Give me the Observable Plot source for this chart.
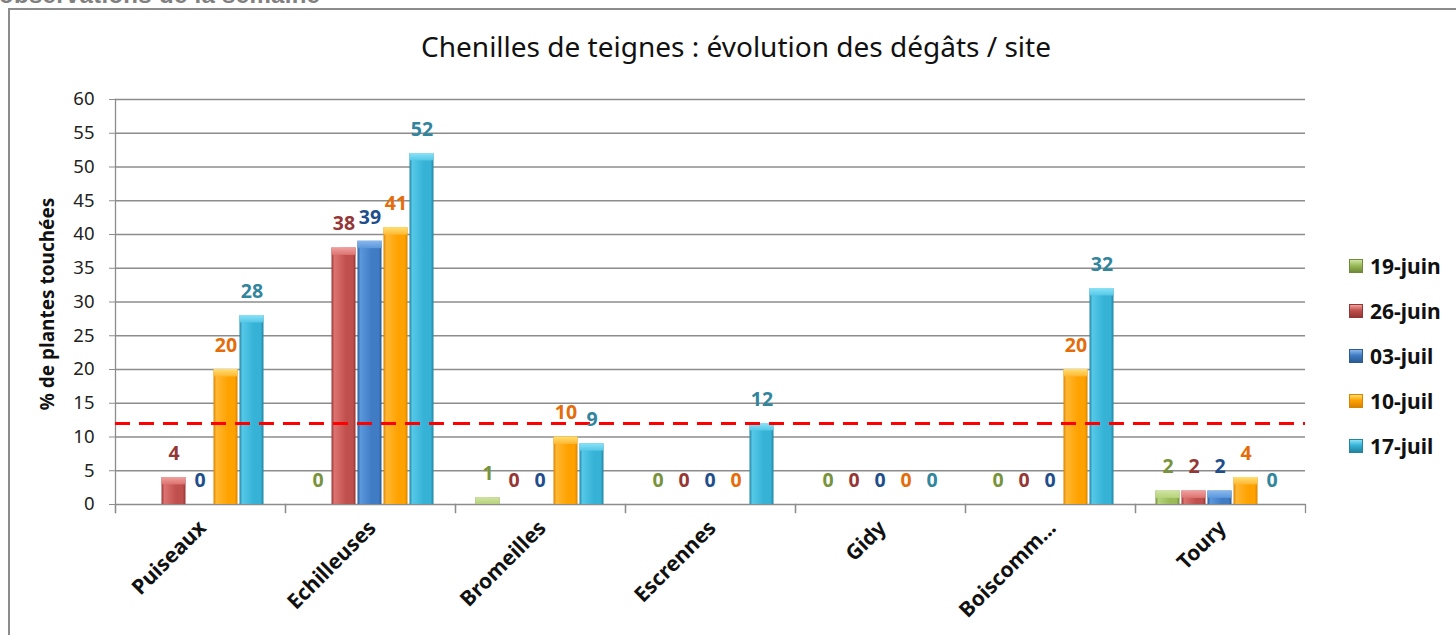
<!DOCTYPE html>
<html><head><meta charset="utf-8">
<script src="https://cdn.jsdelivr.net/npm/d3@7"></script>
<script src="https://cdn.jsdelivr.net/npm/@observablehq/plot@0.6"></script>
<style>
body{margin:0;background:#fff;overflow:hidden;}
#wrap{position:relative;width:1456px;height:635px;overflow:hidden;font-family:"Noto Sans",sans-serif;background:#fff;}
#chart{position:absolute;left:0;top:0;}
#border{position:absolute;left:8px;top:8px;width:1500px;height:700px;border-left:2px solid #8c8c8c;border-top:2px solid #8c8c8c;pointer-events:none;}
#head{position:absolute;left:-1px;top:-19px;font:bold 24px "Liberation Sans",sans-serif;color:#808080;white-space:nowrap;letter-spacing:0.3px;}
#title{position:absolute;left:0;width:1472px;text-align:center;top:27px;font-size:28px;color:#111;white-space:nowrap;}
#ylab{position:absolute;left:47px;top:304px;transform:translate(-50%,-50%) rotate(-90deg);font-size:19px;font-weight:bold;color:#111;white-space:nowrap;}
.leg{position:absolute;left:1349px;height:24px;display:flex;align-items:center;font-size:21px;font-weight:bold;color:#111;white-space:nowrap;}
.sw{width:14px;height:14px;margin-right:7px;box-sizing:border-box;}
</style></head>
<body>
<div id="wrap">
  <div id="chart"></div>
  <div id="head">observations de la semaine</div>
  <div id="border"></div>
  <div id="title">Chenilles de teignes : évolution des dégâts / site</div>
  <div id="ylab">% de plantes touchées</div>
  <div id="legend"></div>
</div>
<script>
// ---- data ----
const sites = ["Puiseaux", "Echilleuses", "Bromeilles", "Escrennes", "Gidy", "Boiscomm...", "Toury"];
const dates = ["19-juin", "26-juin", "03-juil", "10-juil", "17-juil"];
const s19juin = [null, 0, 1, 0, 0, 0, 2];
const s26juin = [4, 38, 0, 0, 0, 0, 2];
const s03juil = [0, 39, 0, 0, 0, 0, 2];
const s10juil = [20, 41, 10, 0, 0, 20, 4];
const s17juil = [28, 52, 9, 12, 0, 32, 0];
const threshold = 12;
const yTicks = [0, 5, 10, 15, 20, 25, 30, 35, 40, 45, 50, 55, 60];

// ---- styles ----
const barBase  = ["#9bbb59", "#c0504d", "#3f7cc4", "#ffa200", "#35b2d6"];
const barLight = ["#b5d37a", "#dc7370", "#5a97dc", "#ffb733", "#55c8e8"];
const barDark  = ["#6f8a38", "#943634", "#2b5a94", "#d98400", "#23849f"];
const barTop   = ["#cfe4a2", "#f0a09e", "#8ab8ec", "#ffe070", "#8ae2f6"];
const labelColors = ["#77933c", "#953735", "#1f4e8c", "#e46c0a", "#31859c"];

const seriesValues = [s19juin, s26juin, s03juil, s10juil, s17juil];
const rows = [];
dates.forEach((date, i) => {
  seriesValues[i].forEach((v, j) => {
    if (v !== null) rows.push({site: sites[j], date, series: i, value: v});
  });
});

const W = 1456, H = 635, mT = 99, mB = 131, mL = 114, mR = 151;
const plotH = H - mT - mB;

const marks = [
  Plot.ruleY(yTicks, {stroke: "#8c8c8c", strokeWidth: 1.3}),
  Plot.frame({anchor: "left", facetAnchor: "left", stroke: "#8c8c8c", strokeWidth: 1.3, insetBottom: -8}),
  Plot.frame({anchor: "left", stroke: "#8c8c8c", strokeWidth: 1.3, insetTop: plotH, insetBottom: -8}),
  Plot.frame({anchor: "right", stroke: "#8c8c8c", strokeWidth: 1.3, insetTop: plotH, insetBottom: -8}),
  Plot.axisY({ticks: yTicks, tickSize: 6, tickPadding: 15, fontSize: 18.5, fill: "#222", stroke: "#8c8c8c", label: null}),
  Plot.axisFx({anchor: "bottom", tickRotate: -45, tickSize: 0, tickPadding: 20, dx: 2, fontSize: 21, fontWeight: "bold", fill: "#111", label: null})
];
dates.forEach((date, i) => {
  const data = rows.filter(d => d.series === i && d.value > 0);
  marks.push(Plot.barY(data, {fx: "site", x: "date", y: "value", fill: `url(#bar${i})`, insetLeft: 0.5, insetRight: 0.5}));
  marks.push(Plot.rectY(data, {fx: "site", x: "date", y1: "value", y2: d => Math.max(0, d.value - 1.1), fill: `url(#top${i})`, insetLeft: 0.5, insetRight: 0.5}));
});
marks.push(Plot.ruleY([threshold], {stroke: "#ff0000", strokeWidth: 3, strokeDasharray: "15,9"}));
dates.forEach((date, i) => {
  const data = rows.filter(d => d.series === i);
  marks.push(Plot.text(data, {fx: "site", x: "date", y: "value", text: d => String(d.value), dy: -24, fill: labelColors[i], fontSize: 19.5, fontWeight: "bold"}));
});

const svg = Plot.plot({
  width: W, height: H,
  marginTop: mT, marginBottom: mB, marginLeft: mL, marginRight: mR,
  style: {fontFamily: "Noto Sans, sans-serif", background: "transparent"},
  fx: {domain: sites, padding: 0, label: null},
  x: {domain: dates, type: "band", paddingInner: 0.03, paddingOuter: 0.73, axis: null},
  y: {domain: [0, 60], label: null},
  marks
});

const defs = d3.select(svg).insert("defs", ":first-child");
dates.forEach((d, i) => {
  const g = defs.append("linearGradient").attr("id", `bar${i}`).attr("x1", 0).attr("x2", 1).attr("y1", 0).attr("y2", 0);
  g.append("stop").attr("offset", 0).attr("stop-color", barDark[i]);
  g.append("stop").attr("offset", 0.12).attr("stop-color", barLight[i]);
  g.append("stop").attr("offset", 0.6).attr("stop-color", barBase[i]);
  g.append("stop").attr("offset", 0.88).attr("stop-color", barBase[i]);
  g.append("stop").attr("offset", 1).attr("stop-color", barDark[i]);
  const t = defs.append("linearGradient").attr("id", `top${i}`).attr("x1", 0).attr("x2", 0).attr("y1", 0).attr("y2", 1);
  t.append("stop").attr("offset", 0).attr("stop-color", barTop[i]);
  t.append("stop").attr("offset", 1).attr("stop-color", barLight[i]);
});
document.getElementById("chart").appendChild(svg);

// legend
const legend = document.getElementById("legend");
dates.forEach((d, i) => {
  const item = document.createElement("div");
  item.className = "leg";
  item.style.top = (254 + i * 45) + "px";
  const sw = document.createElement("div");
  sw.className = "sw";
  sw.style.background = `linear-gradient(to bottom, ${barTop[i]}, ${barBase[i]} 45%, ${barDark[i]})`;
  sw.style.border = `1px solid ${barDark[i]}`;
  item.appendChild(sw);
  const tx = document.createElement("span");
  tx.textContent = d;
  item.appendChild(tx);
  legend.appendChild(item);
});
</script>
</body></html>
